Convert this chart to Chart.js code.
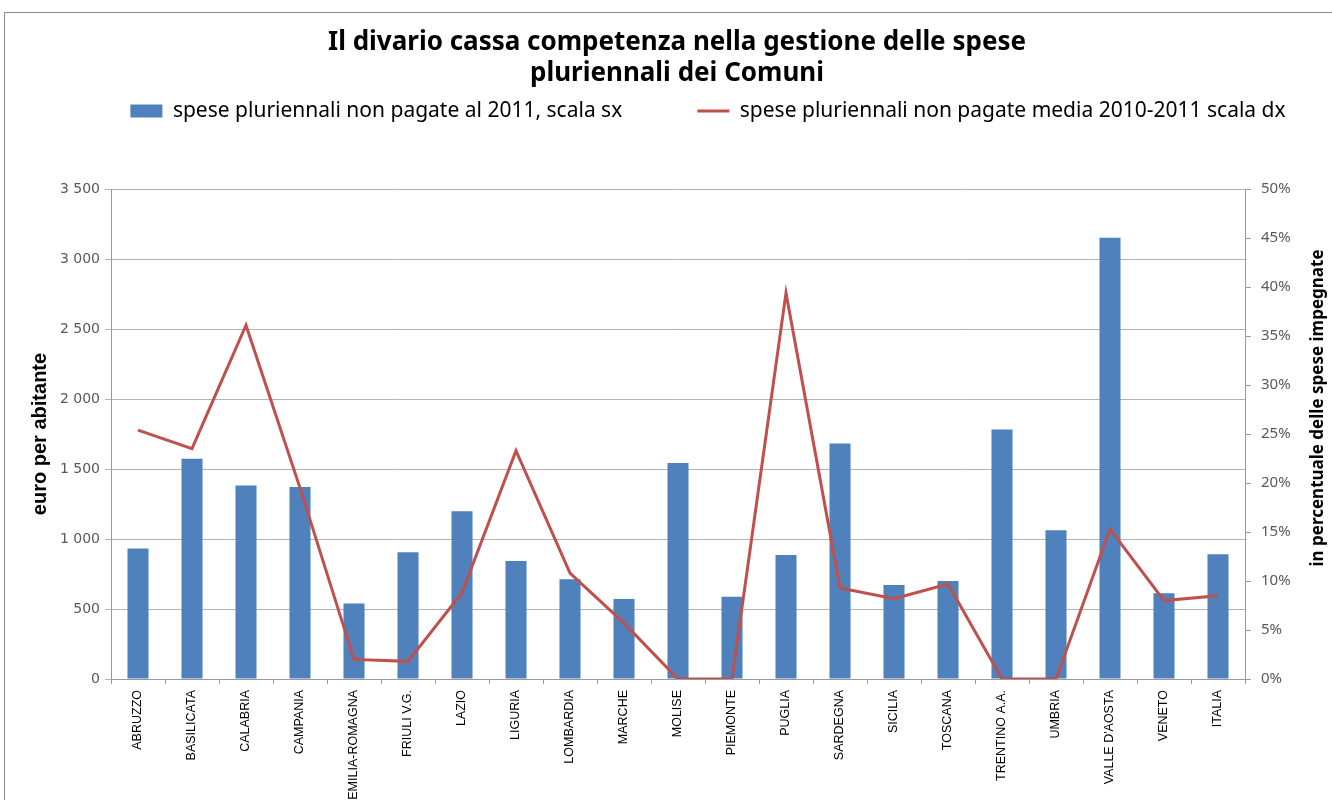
<!DOCTYPE html>
<html>
<head>
<meta charset="utf-8">
<script src="https://cdn.jsdelivr.net/npm/chart.js@4.4.1/dist/chart.umd.min.js"></script>
<style>
  html, body { margin: 0; padding: 0; background: #fff; }
  #wrap { position: relative; width: 1332px; height: 800px; }
  #frame { position: absolute; left: 4px; top: 12px; right: 0; bottom: 0;
           border-top: 1px solid #8c8c8c; border-left: 1px solid #8c8c8c; pointer-events: none; }
</style>
</head>
<body>
<div id="wrap">
  <canvas id="myChart"></canvas>
  <div id="frame"></div>
</div>
<script>
// regioni
const regioni = ['ABRUZZO', 'BASILICATA', 'CALABRIA', 'CAMPANIA', 'EMILIA-ROMAGNA', 'FRIULI V.G.',
  'LAZIO', 'LIGURIA', 'LOMBARDIA', 'MARCHE', 'MOLISE', 'PIEMONTE', 'PUGLIA', 'SARDEGNA', 'SICILIA',
  'TOSCANA', 'TRENTINO A.A.', 'UMBRIA', "VALLE D'AOSTA", 'VENETO', 'ITALIA'];

// euro per abitante (scala sx)
const speseNonPagate2011 = [933, 1574, 1383, 1371, 540, 905, 1198, 843, 712, 571, 1543, 588, 886,
  1683, 671, 700, 1783, 1062, 3152, 612, 891];

// % delle spese impegnate (scala dx)
const speseNonPagateMedia = [25.4, 23.5, 36.1, 19.5, 2.0, 1.8, 8.8, 23.3, 10.8, 5.7, 0, 0, 39.4,
  9.3, 8.2, 9.7, 0, 0, 15.3, 8.0, 8.5];

const titolo = ['Il divario cassa competenza nella gestione delle spese', 'pluriennali dei Comuni'];
const etichettaBarre = 'spese pluriennali non pagate al 2011, scala sx';
const etichettaLinea = 'spese pluriennali non pagate media 2010-2011 scala dx';
const titoloAsseSx = 'euro per abitante';
const titoloAsseDx = 'in percentuale delle spese impegnate';

const assiColore = '#9a9a9a';

function migliaia(v) {
  return String(v).replace(/\B(?=(\d{3})+(?!\d))/g, ' ');
}

// titolo e legenda di Excel non sono centrati sul grafico
const spostaBlocchi = {
  id: 'spostaBlocchi',
  afterLayout(chart) {
    chart.legend.left += 42;
    chart.legend.right += 42;
    chart.titleBlock.left += 11;
    chart.titleBlock.right += 11;
  }
};

// titolo asse destro letto dal basso verso l'alto, come in Excel
const titoloDestro = {
  id: 'titoloDestro',
  afterDraw(chart) {
    const s = chart.scales.y1;
    const c = chart.ctx;
    c.save();
    c.translate(s.right - 14, (s.top + s.bottom) / 2 - 26);
    c.rotate(-Math.PI / 2);
    c.font = 'bold 17px "Noto Sans"';
    c.fillStyle = '#000';
    c.textAlign = 'center';
    c.textBaseline = 'middle';
    c.fillText(titoloAsseDx, 0, 0);
    c.restore();
  }
};

const ctx = document.getElementById('myChart').getContext('2d');

const myChart = new Chart(ctx, {
  type: 'bar',
  data: {
    labels: regioni,
    datasets: [
      {
        label: etichettaBarre,
        data: speseNonPagate2011,
        backgroundColor: '#4F81BD',
        borderWidth: 0,
        barPercentage: 0.39,
        categoryPercentage: 1,
        xAxisID: 'x',
        yAxisID: 'y',
        order: 1
      },
      {
        type: 'line',
        label: etichettaLinea,
        data: speseNonPagateMedia,
        borderColor: '#C0504D',
        backgroundColor: '#C0504D',
        borderWidth: 3,
        pointRadius: 0,
        tension: 0,
        fill: false,
        xAxisID: 'x',
        yAxisID: 'y1',
        order: 0
      }
    ]
  },
  plugins: [spostaBlocchi, titoloDestro],
  options: {
    responsive: true,
    maintainAspectRatio: false,
    animation: false,
    layout: { padding: 0 },
    plugins: {
      tooltip: { enabled: false },
      title: {
        display: true,
        text: titolo,
        color: '#000',
        font: { family: 'Noto Sans', size: 26, weight: 'bold', lineHeight: 1.2 },
        padding: { top: 27, bottom: -63.9 }
      },
      legend: {
        position: 'top',
        labels: {
          usePointStyle: true,
          pointStyleWidth: 32,
          boxHeight: 13,
          padding: 75,
          color: '#000',
          font: { family: 'Noto Sans', size: 21 },
          generateLabels: function(chart) {
            const items = Chart.defaults.plugins.legend.labels.generateLabels(chart);
            items.forEach(it => {
              it.pointStyle = it.datasetIndex === 0 ? 'rect' : 'line';
            });
            return items.sort((a, b) => a.datasetIndex - b.datasetIndex);
          }
        }
      }
    },
    scales: {
      x: {
        type: 'category',
        position: 'bottom',
        offset: true,
        grid: { display: true, drawOnChartArea: false, offset: true, tickLength: 5, color: assiColore },
        border: { color: assiColore },
        ticks: {
          autoSkip: false, minRotation: 90, maxRotation: 90, padding: 6, color: '#000',
          font: { family: 'Liberation Sans', size: 12.5 }
        },
        afterFit: s => { s.height = 121; }
      },
      xTop: {
        type: 'category',
        position: 'top',
        grid: { display: false },
        border: { display: false },
        ticks: { display: false },
        afterFit: s => { s.height = 57.5; }
      },
      y: {
        position: 'left',
        min: 0,
        max: 3500,
        ticks: {
          stepSize: 500, padding: 5, color: '#595959',
          font: { family: 'DejaVu Sans', size: 14 },
          callback: v => migliaia(v)
        },
        grid: { color: '#b3b3b3', tickLength: 6 },
        border: { color: assiColore },
        title: {
          display: true, text: titoloAsseSx, color: '#000',
          font: { family: 'Liberation Sans', size: 20, weight: 'bold' },
          padding: { top: 28, bottom: 0 }
        },
        afterFit: s => { s.width = 111; }
      },
      y1: {
        position: 'right',
        min: 0,
        max: 50,
        ticks: {
          stepSize: 5, padding: 10, color: '#595959',
          font: { family: 'Noto Sans', size: 15 },
          callback: v => v + '%'
        },
        grid: { drawOnChartArea: false, tickLength: 6, color: assiColore },
        border: { color: assiColore },
        afterFit: s => { s.width = 87; }
      }
    }
  }
});
</script>
</body>
</html>
